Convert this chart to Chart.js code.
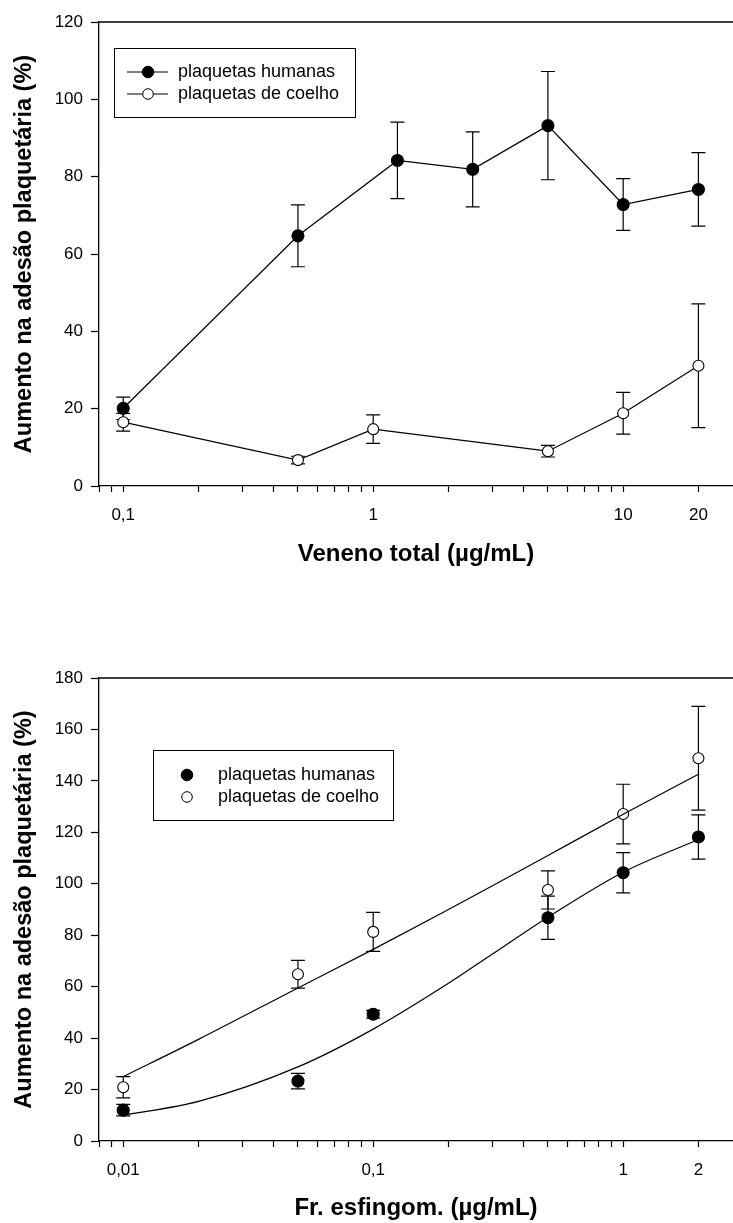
<!DOCTYPE html>
<html lang="pt">
<head>
<meta charset="UTF-8" />
<title>Aumento na adesão plaquetária</title>
<script src="https://cdn.jsdelivr.net/npm/chart.js"></script>
<style>
  body { margin: 0; background: #fff; }
  .wrap { position: absolute; left: 0; width: 733px; }
  #top { top: 0; height: 600px; }
  #bottom { top: 600px; height: 623px; }
</style>
</head>
<body>
<div class="wrap" id="top"><canvas id="chartTop"></canvas></div>
<div class="wrap" id="bottom"><canvas id="chartBottom"></canvas></div>
<script>
// painel superior: veneno total
const venenoHumanasDoses = [0.1, 0.5, 1.25, 2.5, 5, 10, 20];
const venenoHumanas = [20.1, 64.7, 84.2, 81.9, 93.2, 72.8, 76.7];
const venenoHumanasErr = [2.9, 8.0, 9.9, 9.7, 14.0, 6.7, 9.5];
const venenoCoelhoDoses = [0.1, 0.5, 1, 5, 10, 20];
const venenoCoelho = [16.5, 6.7, 14.7, 9.0, 18.8, 31.1];
const venenoCoelhoErr = [2.3, 1.0, 3.7, 1.5, 5.4, 16.0];
const venenoTicks = [0.08, 0.09, 0.1, 0.2, 0.3, 0.4, 0.5, 0.6, 0.7, 0.8, 0.9, 1, 2, 3, 4, 5, 6, 7, 8, 9, 10, 20];
const venenoMajor = [0.1, 1, 10, 20];
const venenoMajorLabels = ['0,1', '1', '10', '20'];

// painel inferior: fração esfingomielinase
const esfHumanasDoses = [0.01, 0.05, 0.1, 0.5, 1, 2];
const esfHumanas = [12.0, 23.3, 49.3, 86.8, 104.3, 118.2];
const esfHumanasErr = [2.2, 3.0, 1.5, 8.4, 7.8, 8.6];
const esfCoelhoDoses = [0.01, 0.05, 0.1, 0.5, 1, 2];
const esfCoelho = [20.9, 64.8, 81.3, 97.6, 127.1, 148.8];
const esfCoelhoErr = [4.1, 5.4, 7.6, 7.4, 11.6, 20.2];
const ajusteDoses = [0.01, 0.02, 0.05, 0.1, 0.2, 0.3, 0.5, 1, 2];
const ajusteHumanas = [10, 15.4, 28.8, 43.5, 61.3, 72.7, 87, 104.5, 117.2];
const ajusteCoelho = [25, 39.5, 59.5, 74.5, 90, 99.2, 111, 127, 142.6];
const esfTicks = [0.008, 0.009, 0.01, 0.02, 0.03, 0.04, 0.05, 0.06, 0.07, 0.08, 0.09, 0.1, 0.2, 0.3, 0.4, 0.5, 0.6, 0.7, 0.8, 0.9, 1, 2];
const esfMajor = [0.01, 0.1, 1, 2];
const esfMajorLabels = ['0,01', '0,1', '1', '2'];

const seriesNames = ['plaquetas humanas', 'plaquetas de coelho'];

const FONT = "'Liberation Sans', Arial, sans-serif";
Chart.defaults.font.family = FONT;
Chart.defaults.color = '#000';

const pts = (xs, ys) => xs.map((x, i) => ({ x: x, y: ys[i] }));

// barras de erro, desenhadas antes dos marcadores
const errorBars = {
  id: 'errorBars',
  beforeDatasetsDraw(chart) {
    const { ctx, scales: { x, y } } = chart;
    ctx.save();
    ctx.strokeStyle = '#000';
    ctx.lineWidth = 1.2;
    chart.data.datasets.forEach(ds => {
      if (!ds.errors) return;
      ds.data.forEach((p, i) => {
        const e = ds.errors[i];
        const px = x.getPixelForValue(p.x);
        const yt = y.getPixelForValue(p.y + e);
        const yb = y.getPixelForValue(p.y - e);
        ctx.beginPath();
        ctx.moveTo(px, yt); ctx.lineTo(px, yb);
        ctx.moveTo(px - 7, yt); ctx.lineTo(px + 7, yt);
        ctx.moveTo(px - 7, yb); ctx.lineTo(px + 7, yb);
        ctx.stroke();
      });
    });
    ctx.restore();
  }
};

// linha superior do quadro + legenda em caixa
const frame = {
  id: 'frame',
  afterDraw(chart, args, o) {
    const { ctx, chartArea: a } = chart;
    ctx.save();
    ctx.strokeStyle = '#000';
    ctx.lineWidth = 1.3;
    ctx.beginPath();
    ctx.moveTo(a.left, a.top); ctx.lineTo(a.right, a.top);
    ctx.stroke();

    ctx.lineWidth = 1;
    ctx.strokeRect(o.x + 0.5, o.y + 0.5, o.w, o.h);
    ctx.font = '18px ' + FONT;
    ctx.textBaseline = 'middle';
    seriesNames.forEach((name, i) => {
      const ry = o.rowY[i];
      if (o.line) {
        ctx.beginPath();
        ctx.moveTo(o.markX - 21, ry); ctx.lineTo(o.markX + 20, ry);
        ctx.stroke();
      }
      ctx.beginPath();
      ctx.arc(o.markX, ry, i === 0 ? 5.8 : 5.3, 0, Math.PI * 2);
      ctx.fillStyle = i === 0 ? '#000' : '#fff';
      ctx.fill();
      ctx.stroke();
      ctx.fillStyle = '#000';
      ctx.fillText(name, o.textX, ry);
    });
    ctx.restore();
  }
};

function xAxis(min, max, tickVals, major, majorLabels, title, height, titlePad) {
  return {
    type: 'logarithmic',
    min: min, max: max,
    afterBuildTicks(s) { s.ticks = tickVals.map(v => ({ value: v })); },
    ticks: {
      autoSkip: false, maxRotation: 0, padding: 13,
      font: { size: 17 },
      callback(v) {
        const k = major.indexOf(v);
        return k >= 0 ? majorLabels[k] : '';
      }
    },
    grid: { drawOnChartArea: false, drawTicks: true, tickLength: 6, tickColor: '#000', tickWidth: 1.2 },
    border: { display: true, color: '#000', width: 1.3 },
    title: { display: true, text: title, font: { size: 24, weight: 'bold' }, padding: { top: 0, bottom: titlePad } },
    afterFit(s) { s.height = height; s.paddingLeft = 0; s.paddingRight = 0; }
  };
}

function yAxis(max) {
  return {
    min: 0, max: max,
    ticks: { stepSize: 20, padding: 8, font: { size: 17 } },
    grid: { drawOnChartArea: false, drawTicks: true, tickLength: 8, tickColor: '#000', tickWidth: 1.2 },
    border: { display: true, color: '#000', width: 1.3 },
    title: { display: true, text: 'Aumento na adesão plaquetária (%)', font: { size: 23.5, weight: 'bold' }, padding: { top: 10, bottom: 0 } },
    afterFit(s) { s.width = 99; }
  };
}

const markerStyle = (filled) => ({
  pointRadius: filled ? 6 : 5.5,
  pointHoverRadius: filled ? 6 : 5.5,
  pointBackgroundColor: filled ? '#000' : '#fff',
  pointBorderColor: '#000',
  pointBorderWidth: 1.1
});

new Chart(document.getElementById('chartTop'), {
  type: 'scatter',
  data: {
    datasets: [
      Object.assign({
        label: seriesNames[0],
        data: pts(venenoHumanasDoses, venenoHumanas),
        errors: venenoHumanasErr,
        showLine: true, borderColor: '#000', borderWidth: 1.2
      }, markerStyle(true)),
      Object.assign({
        label: seriesNames[1],
        data: pts(venenoCoelhoDoses, venenoCoelho),
        errors: venenoCoelhoErr,
        showLine: true, borderColor: '#000', borderWidth: 1.2
      }, markerStyle(false))
    ]
  },
  options: {
    responsive: true, maintainAspectRatio: false, animation: false, devicePixelRatio: 1,
    layout: { autoPadding: false, padding: { top: 22, right: 0, left: 0, bottom: 0 } },
    plugins: {
      legend: { display: false }, tooltip: { enabled: false },
      frame: { x: 114, y: 48, w: 241, h: 69, rowY: [72, 94], line: true, markX: 148, textX: 178 }
    },
    scales: {
      x: xAxis(0.08, 27.5, venenoTicks, venenoMajor, venenoMajorLabels, 'Veneno total (µg/mL)', 114, 31),
      y: yAxis(120)
    }
  },
  plugins: [errorBars, frame]
});

new Chart(document.getElementById('chartBottom'), {
  type: 'scatter',
  data: {
    datasets: [
      {
        label: 'ajuste humanas',
        data: pts(ajusteDoses, ajusteHumanas),
        showLine: true, borderColor: '#000', borderWidth: 1.2,
        cubicInterpolationMode: 'monotone', pointRadius: 0, pointHoverRadius: 0
      },
      {
        label: 'ajuste coelho',
        data: pts(ajusteDoses, ajusteCoelho),
        showLine: true, borderColor: '#000', borderWidth: 1.2,
        cubicInterpolationMode: 'monotone', pointRadius: 0, pointHoverRadius: 0
      },
      Object.assign({
        label: seriesNames[0],
        data: pts(esfHumanasDoses, esfHumanas),
        errors: esfHumanasErr, showLine: false
      }, markerStyle(true)),
      Object.assign({
        label: seriesNames[1],
        data: pts(esfCoelhoDoses, esfCoelho),
        errors: esfCoelhoErr, showLine: false
      }, markerStyle(false))
    ]
  },
  options: {
    responsive: true, maintainAspectRatio: false, animation: false, devicePixelRatio: 1,
    layout: { autoPadding: false, padding: { top: 78, right: 0, left: 0, bottom: 0 } },
    plugins: {
      legend: { display: false }, tooltip: { enabled: false },
      frame: { x: 153, y: 150, w: 240, h: 70, rowY: [175, 197], line: false, markX: 187, textX: 218 }
    },
    scales: {
      x: xAxis(0.008, 2.75, esfTicks, esfMajor, esfMajorLabels, 'Fr. esfingom. (µg/mL)', 82, 0),
      y: yAxis(180)
    }
  },
  plugins: [errorBars, frame]
});
</script>
</body>
</html>
